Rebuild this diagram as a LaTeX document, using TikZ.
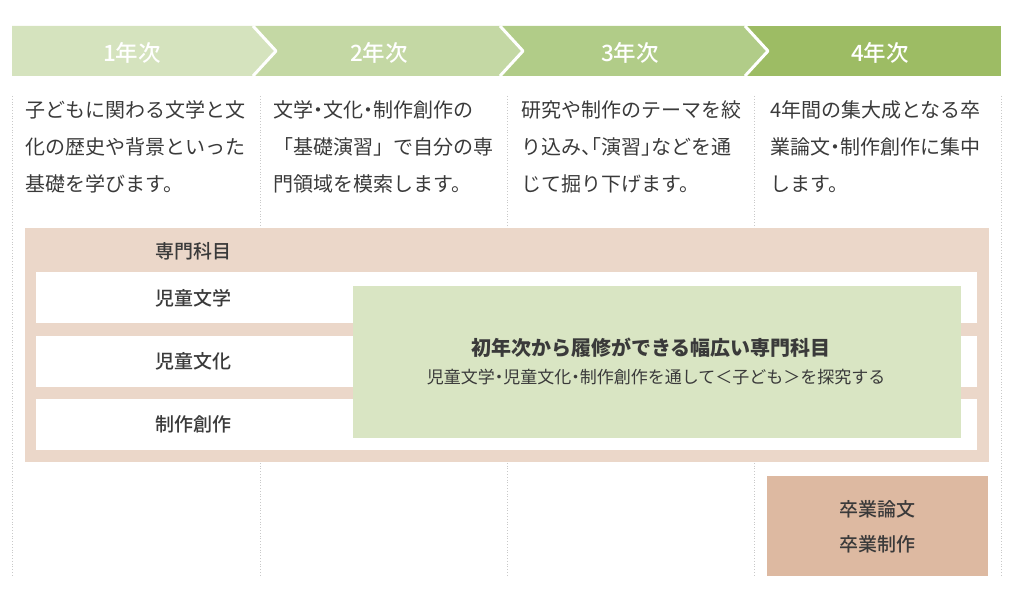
\documentclass[tikz,border=0pt]{standalone}
\usepackage{fontspec}
\setmainfont{Noto Sans CJK JP}
\newfontfamily\halfpunct[RawFeature=+halt]{Noto Sans CJK JP}
\newfontfamily\mediumjp{Noto Sans CJK JP Medium}
\newcommand\nakaguro{{\halfpunct ・}}
\usetikzlibrary{positioning}
\definecolor{yearA}{HTML}{D5E3BE}
\definecolor{yearB}{HTML}{C4D8A4}
\definecolor{yearC}{HTML}{B1CC88}
\definecolor{yearD}{HTML}{9DBC64}
\definecolor{pinkbg}{HTML}{EBD7C9}
\definecolor{greenbox}{HTML}{D9E5C3}
\definecolor{brownbox}{HTML}{DDB9A1}
\definecolor{txtgray}{HTML}{3A3A3A}
\definecolor{gridgray}{HTML}{C9C9C9}

\begin{document}
\begin{tikzpicture}[x=1pt, y=-1pt, line join=round,
  every node/.style={text=txtgray},
  yearlbl/.style={text=white, font=\mediumjp\fontsize{22.5}{22.5}\selectfont},
  desc/.style={anchor=north west, inner sep=0pt, align=left, font=\fontsize{20}{37}\selectfont},
  rowlbl/.style={anchor=west, inner sep=0pt, font=\mediumjp\fontsize{19}{19}\selectfont},
  sep/.style={draw=gridgray, dotted, line width=0.8pt}]
\useasboundingbox (0,0) rectangle (1024,607);
% column guides
\foreach \x in {12,260,507,754,1001}
  \draw[sep] (\x,96) -- (\x,576);
% year band
\fill[yearD] (745,26) rectangle (1001,76);
\foreach \L/\R/\c in {500/745/yearC, 253/500/yearB, 12/253/yearA}
  \fill[\c] (\L,26) -- (\R,26) -- (\R+23,51) -- (\R,76) -- (\L,76) -- cycle;
\foreach \b in {253,500,745}
  \draw[white, line width=3pt] (\b,26) -- (\b+23,51) -- (\b,76);
\node[yearlbl] (y1) at (132,52.5) {1年次};
\node[yearlbl] (y2) at (379,52.5) {2年次};
\node[yearlbl] (y3) at (630,52.5) {3年次};
\node[yearlbl] (y4) at (880,52.5) {4年次};
% descriptions
\node[desc] (d1) at (25,100) {子どもに関わる文学と文\\化の歴史や背景といった\\基礎を学びます。};
\node[desc] (d2) at (273,100) {文学\nakaguro 文化\nakaguro 制作創作の\\「基礎演習」で自分の専\\門領域を模索します。};
\node[desc] (d3) at (521,100) {研究や制作のテーマを絞\\り込み{\halfpunct 、「}演習{\halfpunct 」}などを通\\じて掘り下げます。};
\node[desc] (d4) at (770,100) {4年間の集大成となる卒\\業論文\nakaguro 制作創作に集中\\します。};
% major subjects
\fill[pinkbg] (25,228) rectangle (989,462);
\foreach \t in {272,336,399}
  \fill[white] (36,\t) rectangle (977,\t+51);
\node[rowlbl] (major) at (155,251) {専門科目};
\node[rowlbl] (lit) at (155,298) {児童文学};
\node[rowlbl] (cul) at (155,361) {児童文化};
\node[rowlbl] (art) at (155,424) {制作創作};
\fill[greenbox] (353,286) rectangle (961,438);
\node[font=\bfseries\fontsize{20}{20}\selectfont] (wide) at (651,348) {初年次から履修ができる幅広い専門科目};
\node[font=\fontsize{17}{17}\selectfont] (wide2) at (656,377) {児童文学\nakaguro 児童文化\nakaguro 制作創作を通して＜子ども＞を探究する};
% graduation
\fill[brownbox] (767,476) rectangle (988,576);
\node[align=center, font=\mediumjp\fontsize{19}{35}\selectfont] (grad) at (877,527) {卒業論文\\卒業制作};
\end{tikzpicture}
\end{document}
